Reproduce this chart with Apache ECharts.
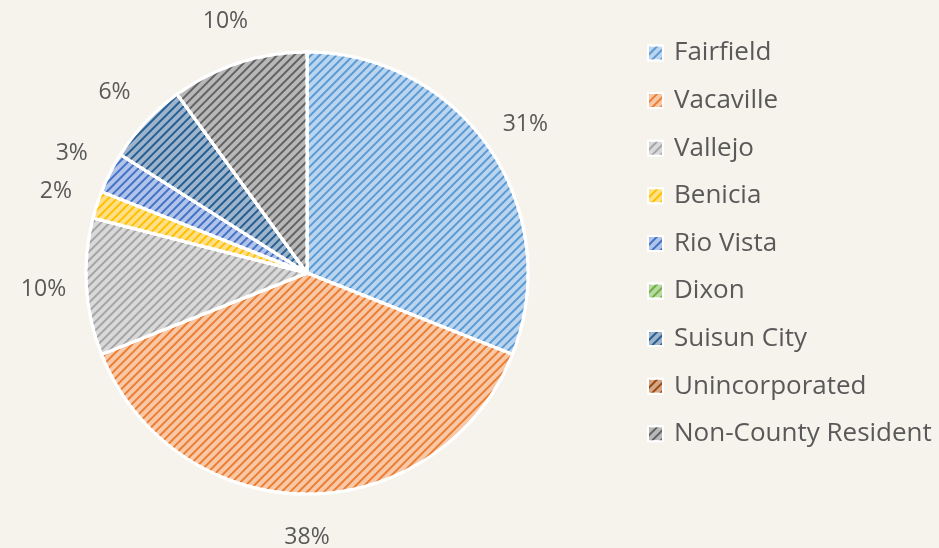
<!DOCTYPE html>
<html>
<head>
<meta charset="utf-8">
<script src="https://cdn.jsdelivr.net/npm/echarts@6/dist/echarts.min.js"></script>
<style>
  html, body { margin: 0; padding: 0; background: #f6f3ec; }
  #chart { width: 939px; height: 548px; }
</style>
</head>
<body>
<div id="chart"></div>
<script>
// 数据
var categories = ['Fairfield', 'Vacaville', 'Vallejo', 'Benicia', 'Rio Vista', 'Dixon', 'Suisun City', 'Unincorporated', 'Non-County Resident'];
var shares = [31, 38, 10, 2, 3, 0, 6, 0, 10];
// 底色(浅) 和 斜纹色(深)
var fillColors = ['#bcd5ee', '#f8c9a8', '#d9d9d9', '#ffe08a', '#b0c3ea', '#b8d9a2', '#9db4cc', '#d2a78a', '#b8b8b8'];
var stripeColors = ['#5b9bd5', '#ed7d31', '#a5a5a5', '#ffc000', '#4472c4', '#70ad47', '#255e91', '#9e480e', '#636363'];

var chart = echarts.init(document.getElementById('chart'));

var pieData = categories.map(function (name, i) {
    return {
        name: name,
        value: shares[i],
        itemStyle: {
            color: fillColors[i],
            decal: {
                symbol: 'rect',
                symbolSize: 1,
                color: stripeColors[i],
                dashArrayX: [1, 0],
                dashArrayY: [2, 3.5],
                rotation: -Math.PI / 4
            }
        }
    };
});

// 标签用的透明外圈
var labelData = categories.map(function (name, i) {
    return {
        name: name,
        value: shares[i],
        label: { show: shares[i] > 0 }
    };
});

var option = {
    backgroundColor: '#f6f3ec',
    aria: { enabled: false },
    legend: {
        orient: 'vertical',
        left: 642,
        top: 35,
        itemWidth: 15,
        itemHeight: 15,
        itemGap: 21.6,
        icon: 'rect',
        data: categories,
        textStyle: {
            fontFamily: 'Open Sans',
            fontSize: 26,
            color: '#595959',
            padding: [0, 0, 0, 6]
        }
    },
    series: [{
        name: 'main',
        type: 'pie',
        center: [307, 273],
        radius: 221,
        startAngle: 90,
        clockwise: true,
        silent: true,
        avoidLabelOverlap: false,
        label: { show: false },
        labelLine: { show: false },
        itemStyle: { borderColor: '#ffffff', borderWidth: 3 },
        data: pieData
    }, {
        name: 'labels',
        type: 'pie',
        center: [307, 273],
        radius: [252, 270],
        startAngle: 90,
        clockwise: true,
        silent: true,
        legendHoverLink: false,
        avoidLabelOverlap: false,
        itemStyle: { color: 'rgba(0,0,0,0)' },
        label: {
            position: 'inside',
            formatter: '{c}%',
            fontFamily: 'Open Sans',
            fontSize: 23,
            color: '#595959'
        },
        labelLine: { show: false },
        data: labelData
    }]
};

chart.setOption(option);
</script>
</body>
</html>
